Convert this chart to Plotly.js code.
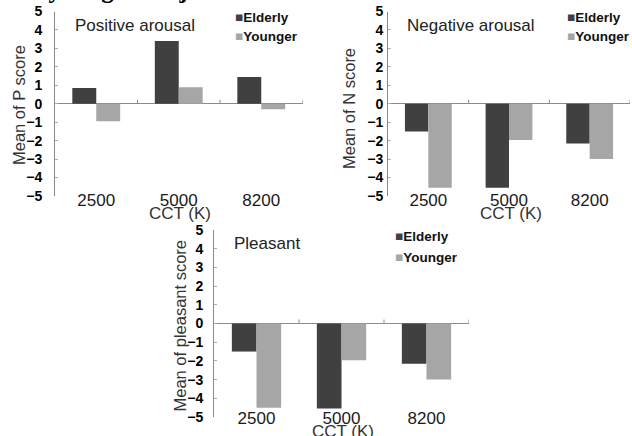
<!DOCTYPE html>
<html>
<head>
<meta charset="utf-8">
<script src="https://cdn.plot.ly/plotly-3.0.1.min.js"></script>
<style>html,body{margin:0;padding:0;background:#fff;}#chart{width:632px;height:436px;}</style>
</head>
<body>
<div id="chart"></div>
<script>
// ---- data ----
const categories = ['2500', '5000', '8200'];
const seriesNames = ['Elderly', 'Younger'];
const positiveElderly = [0.85, 3.4, 1.45];
const positiveYounger = [-0.95, 0.9, -0.3];
const negativeElderly = [-1.5, -4.55, -2.15];
const negativeYounger = [-4.55, -1.97, -3.0];
const pleasantElderly = [-1.5, -4.55, -2.15];
const pleasantYounger = [-4.5, -1.97, -3.0];
const panelTitles = ['Positive arousal', 'Negative arousal', 'Pleasant'];
const yTitles = ['Mean of P score', 'Mean of N score', 'Mean of pleasant score'];
const xTitle = 'CCT (K)';
const yTickVals = [-5, -4, -3, -2, -1, 0, 1, 2, 3, 4, 5];
const caption = 'and younger subjects under CCT conditions.';

// ---- style ----
const W = 632, H = 436;
const colors = ['#404040', '#a6a6a6'];
const axisColor = '#8a8a8a';
const sans = 'Liberation Sans, Arial, sans-serif';
const px = v => v / W;
const py = v => 1 - v / H;

// panel geometry (pixels)
const panels = [
  {x0: 55, x1: 302.5, yTop: 11.5, yBot: 196, xPos: 188, tls: 9,
   xtX: 180, xtY: 213, ytX: 19, ytY: 105,
   titleX: 73, titleY: 25, legX: 233, legY: [17, 37], data: [positiveElderly, positiveYounger]},
  {x0: 388, x1: 630, yTop: 11.5, yBot: 196, xPos: 188, tls: 1,
   xtX: 511, xtY: 213, ytX: 349, ytY: 108,
   titleX: 405, titleY: 25, legX: 565, legY: [17, 37], data: [negativeElderly, negativeYounger]},
  {x0: 214, x1: 469, yTop: 230, yBot: 417, xPos: 406, tls: 7,
   xtX: 343, xtY: 431, ytX: 179.5, ytY: 326,
   titleX: 232, titleY: 243, legX: 393, legY: [236, 257], data: [pleasantElderly, pleasantYounger]}
];

const traces = [];
const layout = {
  width: W, height: H,
  margin: {l: 0, r: 0, t: 0, b: 0},
  paper_bgcolor: '#fff', plot_bgcolor: 'rgba(0,0,0,0)',
  showlegend: false,
  barmode: 'group', bargap: 0.42, bargroupgap: 0,
  font: {family: sans, color: '#222'},
  annotations: [], shapes: []
};

panels.forEach((p, i) => {
  const n = i === 0 ? '' : String(i + 1);
  const xa = 'x' + n, ya = 'y' + n;
  p.data.forEach((vals, s) => {
    traces.push({
      type: 'bar', x: categories, y: vals, name: seriesNames[s],
      xaxis: xa, yaxis: ya,
      marker: {color: colors[s], line: {width: 0}},
      hoverinfo: 'skip'
    });
  });
  layout['xaxis' + n] = {
    domain: [px(p.x0), px(p.x1)], anchor: 'free', position: py(p.xPos),
    type: 'category', range: [-0.5, categories.length - 0.5],
    showline: false, ticks: '', showgrid: false, zeroline: false,
    tickfont: {family: sans, size: 17, color: '#1a1a1a'},
    fixedrange: true
  };
  layout['yaxis' + n] = {
    domain: [py(p.yBot), py(p.yTop)], anchor: xa, range: [-5, 5],
    tickvals: yTickVals, showline: true, linecolor: axisColor, linewidth: 1,
    ticks: 'inside', ticklen: 3, tickcolor: '#b0b0b0', tickwidth: 1,
    ticklabelstandoff: p.tls,
    tickfont: {family: sans, size: 14, color: '#000', weight: 'bold'},
    showgrid: false, zeroline: true, zerolinecolor: axisColor, zerolinewidth: 1,
    fixedrange: true
  };
  // axis titles
  layout.annotations.push({
    xref: 'paper', yref: 'paper', x: px(p.xtX), y: py(p.xtY),
    xanchor: 'center', yanchor: 'middle', showarrow: false,
    text: xTitle, font: {family: sans, size: 17, color: '#333'}
  });
  layout.annotations.push({
    xref: 'paper', yref: 'paper', x: px(p.ytX), y: py(p.ytY),
    xanchor: 'center', yanchor: 'middle', showarrow: false, textangle: -90,
    text: yTitles[i], font: {family: sans, size: 16.5, color: '#333'}
  });
  // panel title
  layout.annotations.push({
    xref: 'paper', yref: 'paper', x: px(p.titleX), y: py(p.titleY),
    xanchor: 'left', yanchor: 'middle', showarrow: false,
    text: panelTitles[i], font: {family: sans, size: 17, color: '#222'}
  });
  // legend entries
  seriesNames.forEach((name, s) => {
    layout.annotations.push({
      xref: 'paper', yref: 'paper', x: px(p.legX), y: py(p.legY[s]),
      xanchor: 'left', yanchor: 'middle', showarrow: false,
      text: '<span style="color:' + colors[s] + '">■</span>' + name,
      font: {family: sans, size: 13.5, color: '#111', weight: 'bold'}
    });
  });
  // small tick marks on the zero line at category boundaries
  categories.forEach((c, k) => {
    layout.shapes.push({
      type: 'line', xref: xa, yref: ya, x0: k + 0.5, x1: k + 0.5,
      ysizemode: 'pixel', yanchor: 0, y0: 0, y1: 4,
      line: {color: axisColor, width: 1}
    });
  });
});

// cropped caption at the very top
layout.annotations.push({
  xref: 'paper', yref: 'paper', x: 0, y: 1, xanchor: 'left', yanchor: 'bottom',
  yshift: -5, showarrow: false, text: caption,
  font: {family: 'Liberation Serif, Times New Roman, serif', size: 25, color: '#000', weight: 'bold'}
});

Plotly.newPlot('chart', traces, layout, {staticPlot: true, displayModeBar: false});
</script>
</body>
</html>
